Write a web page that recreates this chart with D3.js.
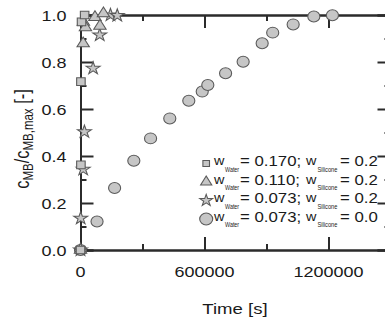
<!DOCTYPE html>
<html>
<head>
<meta charset="utf-8">
<script src="https://cdn.jsdelivr.net/npm/d3@7"></script>
<style>
  body { margin: 0; background: #fff; overflow: hidden; }
  text { font-family: "Liberation Sans", Arial, sans-serif; fill: #1a1a1a; }
</style>
</head>
<body>
<script>
// data (time in s, normalised concentration)
var squareTime = [0, 2000, 2000, 5000, 20000];
var squareConc = [0, 0.362, 0.716, 0.971, 1.0];

var triangleTime = [0, 13000, 14000, 24000, 70000, 94000, 111000];
var triangleConc = [0, 0.879, 0.97, 0.947, 0.99, 0.953, 1.006];

var starTime = [0, 1000, 13000, 19000, 61000, 93000, 145000, 178000];
var starConc = [0, 0.135, 0.343, 0.503, 0.773, 0.915, 1.0, 0.998];

var circleTime = [0, 80000, 165000, 258000, 339000, 432000, 524000, 589000, 616000, 702000, 787000, 879000, 930000, 1029000, 1129000, 1219000];
var circleConc = [0, 0.121, 0.264, 0.380, 0.475, 0.560, 0.635, 0.674, 0.702, 0.752, 0.801, 0.880, 0.925, 0.960, 0.994, 0.999];

var xTicks = [0, 600000, 1200000];
var xMinor = [300000, 900000];
var yTicks = [0, 0.2, 0.4, 0.6, 0.8, 1.0];
var yMinor = [0.1, 0.3, 0.5, 0.7, 0.9];

var legendWater = ["0.170", "0.110", "0.073", "0.073"];
var legendSilicone = ["0.2", "0.2", "0.2", "0.0"];

var width = 385, height = 323;
var stretch = 1.2; // the picture is a bit wider than tall

var svg = d3.select("body").append("svg")
    .attr("width", width)
    .attr("height", height);

var x = d3.scaleLinear().domain([0, 1500000]).range([80.5, 390.5]);
var y = d3.scaleLinear().domain([0, 1]).range([250, 15]);

var axisColor = "#2b2b2b";
var fillGrey = "#c6c6c6";
var strokeGrey = "#5a5a5a";

// axes: frame with inward ticks
var major = 13, minor = 6;
svg.append("g").attr("transform", "translate(0,250)")
    .call(d3.axisTop(x).tickValues(xTicks).tickSize(major).tickFormat(""));
svg.append("g").attr("transform", "translate(0,250)")
    .call(d3.axisTop(x).tickValues(xMinor).tickSize(minor).tickFormat(""));
svg.append("g").attr("transform", "translate(0,15)")
    .call(d3.axisBottom(x).tickValues(xTicks).tickSize(major).tickFormat(""));
svg.append("g").attr("transform", "translate(0,15)")
    .call(d3.axisBottom(x).tickValues(xMinor).tickSize(minor).tickFormat(""));
svg.append("g").attr("transform", "translate(80.5,0)")
    .call(d3.axisRight(y).tickValues(yTicks).tickSize(major).tickFormat(""));
svg.append("g").attr("transform", "translate(80.5,0)")
    .call(d3.axisRight(y).tickValues(yMinor).tickSize(minor).tickFormat(""));
svg.append("g").attr("transform", "translate(390.5,0)")
    .call(d3.axisLeft(y).tickValues(yTicks).tickSize(major).tickFormat(""));
svg.append("g").attr("transform", "translate(390.5,0)")
    .call(d3.axisLeft(y).tickValues(yMinor).tickSize(minor).tickFormat(""));

svg.selectAll(".domain").attr("stroke", axisColor).attr("stroke-width", 2);
svg.selectAll(".tick line").attr("stroke", axisColor).attr("stroke-width", 2);

// text squeezed/stretched sideways by sx
function scaledText(px, py, str, size, anchor, sx) {
    var g = svg.append("g").attr("transform", "translate(" + px + "," + py + ") scale(" + sx + ",1)");
    return g.append("text").attr("text-anchor", anchor).attr("font-size", size).text(str);
}

yTicks.forEach(function (v) {
    scaledText(66.5, y(v) + 5.5, d3.format(".1f")(v), 15, "end", stretch);
});
xTicks.forEach(function (v) {
    scaledText(x(v), 277, String(v), 15, "middle", stretch);
});
scaledText(235, 314, "Time [s]", 15.5, "middle", stretch);

// y title, rotated
var yt = svg.append("g").attr("transform", "translate(28.5,139) scale(" + stretch + ",1) rotate(-90)")
    .append("text").attr("text-anchor", "middle").attr("font-size", 16.5);
yt.append("tspan").text("c");
yt.append("tspan").attr("font-size", 11.5).attr("dy", 4).text("MB");
yt.append("tspan").attr("dy", -4).text("/c");
yt.append("tspan").attr("font-size", 11.5).attr("dy", 4).text("MB,max");
yt.append("tspan").attr("dy", -4).text(" [-]");

// markers
var symSquare = d3.symbol().type(d3.symbolSquare).size(60);
var symTriangle = d3.symbol().type(d3.symbolTriangle).size(55);
var symStar = d3.symbol().type(d3.symbolStar).size(50);
var symCircle = d3.symbol().type(d3.symbolCircle).size(95);

function drawSeries(times, concs, sym) {
    var pts = times.map(function (t, i) { return [t, concs[i]]; });
    svg.append("g").selectAll("path")
        .data(pts)
        .enter()
        .append("path")
        .attr("d", sym)
        .attr("transform", function (d) {
            return "translate(" + x(d[0]) + "," + y(d[1]) + ") scale(1.1,1)";
        })
        .attr("fill", fillGrey)
        .attr("stroke", strokeGrey)
        .attr("stroke-width", 1);
}

drawSeries(circleTime, circleConc, symCircle);
drawSeries(starTime, starConc, symStar);
drawSeries(triangleTime, triangleConc, symTriangle);
drawSeries(squareTime, squareConc, symSquare);

// legend
var legendSyms = [
    d3.symbol().type(d3.symbolSquare).size(36),
    d3.symbol().type(d3.symbolTriangle).size(45),
    d3.symbol().type(d3.symbolStar).size(42),
    d3.symbol().type(d3.symbolCircle).size(110)
];
legendSyms.forEach(function (sym, i) {
    var base = 166 + i * 18.5;
    svg.append("path")
        .attr("d", sym)
        .attr("transform", "translate(206.2," + (base - 2.5) + ") scale(1.1,1)")
        .attr("fill", fillGrey)
        .attr("stroke", strokeGrey)
        .attr("stroke-width", 1);

    scaledText(214, base - 1, "w", 12, "start", stretch);
    scaledText(225, base + 5.5, "Water", 7.5, "start", 0.72);
    scaledText(240, base, "= " + legendWater[i] + ";", 14, "start", stretch);
    scaledText(306, base - 1, "w", 12, "start", stretch);
    scaledText(317.5, base + 5.5, "Silicone", 7.5, "start", 0.76);
    scaledText(340, base, "= " + legendSilicone[i], 14, "start", stretch);
});
</script>
</body>
</html>
